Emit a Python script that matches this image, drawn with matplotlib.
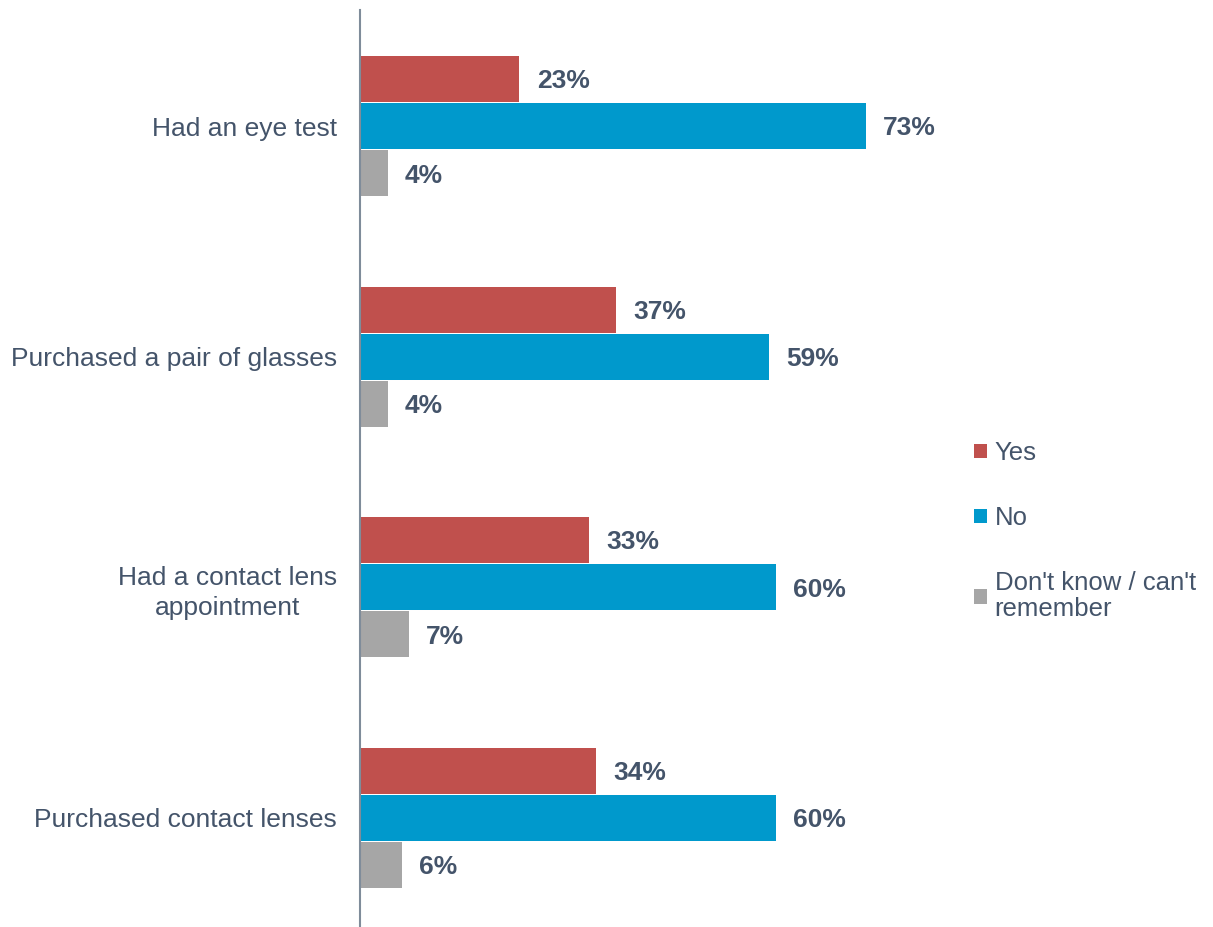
import matplotlib.pyplot as plt
import numpy as np

plt.rcParams['font.family'] = ['Liberation Sans', 'DejaVu Sans']

categories = ['Had an eye test', 'Purchased a pair of glasses',
              'Had a contact lens\nappointment', 'Purchased contact lenses']
series = ['Yes', 'No', "Don't know / can't\nremember"]
yes = [23, 37, 33, 34]
no = [73, 59, 60, 60]
dont_know = [4, 4, 7, 6]

colors = ['#C0504D', '#0099CC', '#A6A6A6']
text_col = '#44546A'

fig = plt.figure(figsize=(12.13, 9.27), dpi=100)
ax = fig.add_axes([360/1213, 0.0, 589/1213, 1 - 10/927])

y = np.arange(len(categories))
h = 0.2
off = 0.204
for vals, col, lab, dy in zip([yes, no, dont_know], colors, series, [-off, 0, off]):
    bars = ax.barh(y + dy, vals, height=h, color=col, label=lab)
    for b, v in zip(bars, vals):
        ax.text(b.get_width() + 2.5, b.get_y() + b.get_height()/2 + 0.01, f'{v}%',
                va='center', ha='left', fontsize=19, fontweight='bold', color=text_col)

ax.set_xlim(0, 85)
ax.set_ylim(3.474, -0.504)
ax.set_yticks(y)
ax.set_yticklabels(categories, fontsize=19, color=text_col)
for t in ax.get_yticklabels():
    t.set_multialignment('center')
    t.set_linespacing(1.35)
ax.tick_params(axis='y', length=0, pad=16.5)
ax.set_xticks([])
for s in ['top', 'right', 'bottom']:
    ax.spines[s].set_visible(False)
ax.spines['left'].set_color('#7F8C9A')
ax.spines['left'].set_linewidth(1.5)

leg = fig.legend(loc='upper left', bbox_to_anchor=(951/1213, 1 - 418/927),
                 frameon=False, fontsize=18.5, handlelength=0.5, handleheight=0.5,
                 handletextpad=0.3, labelspacing=1.6)
for t in leg.get_texts():
    t.set_color(text_col)
    t.set_linespacing(1.1)

fig.savefig('out.png', dpi=100)
